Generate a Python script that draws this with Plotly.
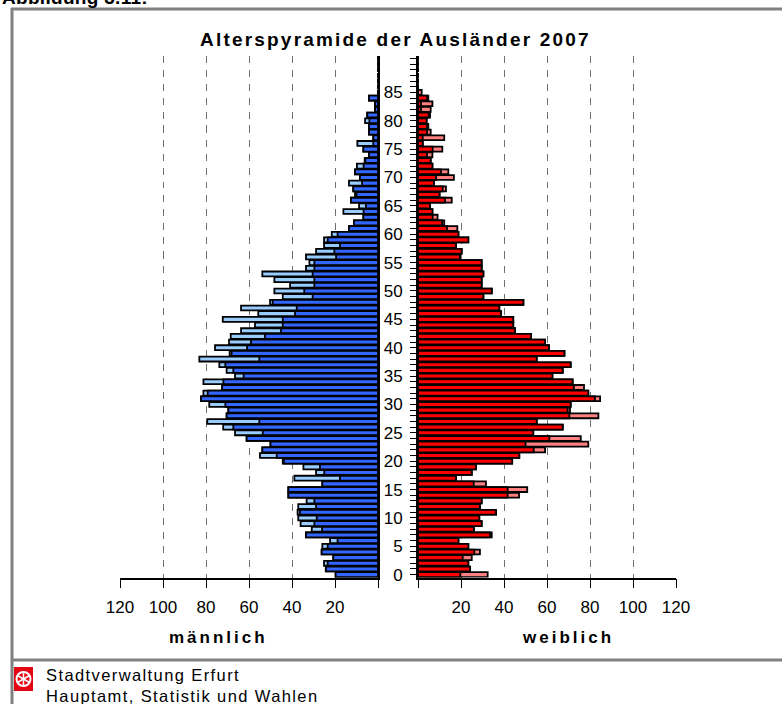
import math
import plotly.graph_objects as go

# ---------------- data ----------------
alter = list(range(92))

maennlich = [19.7, 24.3, 25.1, 20.8, 26.2, 25.9, 22.3, 33.5, 30.8, 36.0,
             37.1, 37.4, 37.1, 33.2, 41.7, 41.7, 25.9, 38.9, 28.8, 34.7,
             44.3, 54.9, 53.8, 50.0, 61.1, 66.5, 72.0, 79.4, 70.4, 69.6,
             78.5, 82.3, 81.2, 72.5, 81.2, 66.5, 70.4, 73.8, 83.1, 69.0,
             75.8, 69.3, 68.5, 63.7, 57.2, 72.2, 55.7, 63.7, 50.2, 44.3,
             48.2, 40.9, 48.2, 53.8, 33.5, 31.9, 33.5, 28.8, 25.1, 25.1,
             21.5, 13.5, 11.2, 6.8, 16.1, 8.8, 12.6, 10.7, 11.5, 13.5,
             8.4, 10.7, 9.8, 6.2, 4.2, 6.8, 9.6, 2.2, 4.2, 4.2,
             6.0, 5.0, 1.4, 1.4, 4.2, 0, 0, 0, 0, 0,
             0, 0]

weiblich = [32.4, 24.2, 23.4, 25.0, 28.8, 23.4, 18.8, 34.3, 26.0, 29.6,
            28.5, 36.3, 28.8, 29.6, 47.0, 50.8, 31.6, 17.7, 25.0, 27.0,
            43.8, 47.1, 59.1, 79.2, 75.7, 53.6, 67.3, 55.2, 83.9, 70.7,
            71.0, 84.7, 79.2, 77.2, 71.9, 62.5, 67.3, 71.0, 55.2, 68.1,
            60.9, 59.1, 52.6, 45.1, 44.3, 44.3, 38.6, 37.8, 49.0, 30.4,
            34.3, 29.6, 29.6, 30.4, 29.6, 29.6, 19.5, 20.3, 17.7, 23.4,
            18.8, 18.3, 12.2, 9.1, 6.7, 5.6, 15.7, 10.0, 13.0, 7.4,
            16.7, 14.1, 6.7, 5.9, 6.7, 11.3, 2.2, 12.2, 5.9, 4.8,
            4.0, 5.6, 5.9, 6.7, 4.8, 1.7, 0, 0, 0, 0,
            0, 0]

x_tickvals = [0, 20, 40, 60, 80, 100, 120]
x_ticktext = ["", "20", "40", "60", "80", "100", "120"]
y_tickvals = [0, 5, 10, 15, 20, 25, 30, 35, 40, 45, 50, 55, 60, 65, 70, 75, 80, 85]

# common part (shown dark), surplus of one sex shown light
gemeinsam = [min(m, w) for m, w in zip(maennlich, weiblich)]

# ---------------- figure ----------------
W, H = 782, 704


def px(x):
    return x / W


def py(y):
    return 1 - y / H


FONT = "Liberation Sans, Arial, Helvetica, sans-serif"
OUTLINE = dict(color="black", width=1.8)
BW = 0.86

fig = go.Figure()
fig.add_trace(go.Bar(y=alter, x=maennlich, orientation="h", xaxis="x", yaxis="y",
                     width=BW, marker=dict(color="#99CCFF", line=OUTLINE),
                     name="Männerüberschuss", hoverinfo="x+y"))
fig.add_trace(go.Bar(y=alter, x=gemeinsam, orientation="h", xaxis="x", yaxis="y",
                     width=BW, marker=dict(color="#3366FF", line=OUTLINE),
                     name="männlich", hoverinfo="x+y"))
fig.add_trace(go.Bar(y=alter, x=weiblich, orientation="h", xaxis="x2", yaxis="y2",
                     width=BW, marker=dict(color="#FF8080", line=OUTLINE),
                     name="Frauenüberschuss", hoverinfo="x+y"))
fig.add_trace(go.Bar(y=alter, x=gemeinsam, orientation="h", xaxis="x2", yaxis="y2",
                     width=BW, marker=dict(color="#FF0000", line=OUTLINE),
                     name="weiblich", hoverinfo="x+y"))

xcommon = dict(tickvals=x_tickvals, ticktext=x_ticktext, showgrid=True,
               gridcolor="#707070", gridwidth=1, griddash="7px,7px",
               zeroline=False, showline=True, linecolor="black", linewidth=1.5,
               ticks="outside", ticklen=9, tickcolor="black", tickwidth=1,
               ticklabelstandoff=4,
               tickfont=dict(size=17, family=FONT, color="black"),
               fixedrange=True, automargin=False)

ydom = [py(577.5), py(55.5)]
yrange = [-0.5, 91.5]

fig.update_layout(
    width=W, height=H,
    margin=dict(l=0, r=0, t=0, b=0, pad=0),
    paper_bgcolor="white", plot_bgcolor="white",
    barmode="overlay", showlegend=False,
    font=dict(family=FONT, color="black", size=16),
    xaxis=dict(domain=[px(120), px(378)], range=[120, 0], anchor="y", **xcommon),
    xaxis2=dict(domain=[px(418), px(676)], range=[0, 120], anchor="y2", **xcommon),
    yaxis=dict(domain=ydom, range=yrange, anchor="x", side="right",
               showline=True, linecolor="black", linewidth=2,
               showticklabels=False, ticks="", showgrid=False, zeroline=False,
               fixedrange=True, automargin=False),
    yaxis2=dict(domain=ydom, range=yrange, anchor="x2", side="left",
                showline=True, linecolor="black", linewidth=2,
                tickvals=y_tickvals, ticks="outside", ticklen=6, tickcolor="black",
                tickwidth=1,
                minor=dict(dtick=1, tick0=0, ticks="outside", ticklen=6,
                           tickcolor="black", tickwidth=1, showgrid=False),
                showgrid=False, zeroline=False, ticklabelstandoff=4,
                tickfont=dict(size=17, family=FONT, color="black"),
                fixedrange=True, automargin=False),
)


def ls(text, sp):
    return '<span style="letter-spacing:%spx">%s</span>' % (sp, text)


annotations = [
    dict(text="<b>" + ls("Alterspyramide der Ausländer 2007", 2.2) + "</b>",
         x=px(395), y=py(40), xanchor="center", yanchor="middle",
         font=dict(size=19, family=FONT, color="black")),
    dict(text="<b>" + ls("männlich", 3) + "</b>",
         x=px(218), y=py(637), xanchor="center", yanchor="middle",
         font=dict(size=17, family=FONT, color="black")),
    dict(text="<b>" + ls("weiblich", 3) + "</b>",
         x=px(568), y=py(637), xanchor="center", yanchor="middle",
         font=dict(size=17, family=FONT, color="black")),
    dict(text=ls("Stadtverwaltung Erfurt", 1.4) + "<br>"
         + ls("Hauptamt, Statistik und Wahlen", 1.4),
         x=px(44), y=py(685), xanchor="left", yanchor="middle", align="left",
         font=dict(size=16.5, family=FONT, color="black")),
    dict(text="<b>" + ls("Abbildung 3.11:", 0.3) + "</b>",
         x=px(0), y=py(-3), xanchor="left", yanchor="middle",
         font=dict(size=19, family=FONT, color="black")),
]
for a in annotations:
    a.update(xref="paper", yref="paper", showarrow=False)
fig.update_layout(annotations=annotations)

GREY = "#808080"
shapes = [
    # frame
    dict(type="line", x0=px(12), x1=px(12), y0=py(8), y1=py(704),
         line=dict(color=GREY, width=3)),
    dict(type="line", x0=px(11), x1=px(782), y0=py(9), y1=py(9),
         line=dict(color=GREY, width=3)),
    dict(type="line", x0=px(11), x1=px(782), y0=py(660), y1=py(660),
         line=dict(color=GREY, width=3)),
    # logo
    dict(type="rect", x0=px(14), x1=px(33), y0=py(667), y1=py(691),
         fillcolor="#E30613", line=dict(width=0)),
    dict(type="circle", x0=px(16.5), x1=px(30.5), y0=py(672), y1=py(686),
         line=dict(color="white", width=2)),
]
cx, cy, r = 23.5, 679, 7
for k in range(6):
    ang = math.pi / 6 + k * math.pi / 3
    shapes.append(dict(type="line", x0=px(cx), y0=py(cy),
                       x1=px(cx + r * math.cos(ang)), y1=py(cy + r * math.sin(ang)),
                       line=dict(color="white", width=1.5)))
for s in shapes:
    s.update(xref="paper", yref="paper", layer="above")
fig.update_layout(shapes=shapes)

fig.write_html("out.html",
               config={"displayModeBar": False},
               post_script="document.body.style.margin='0px';document.body.style.overflow='hidden';")
